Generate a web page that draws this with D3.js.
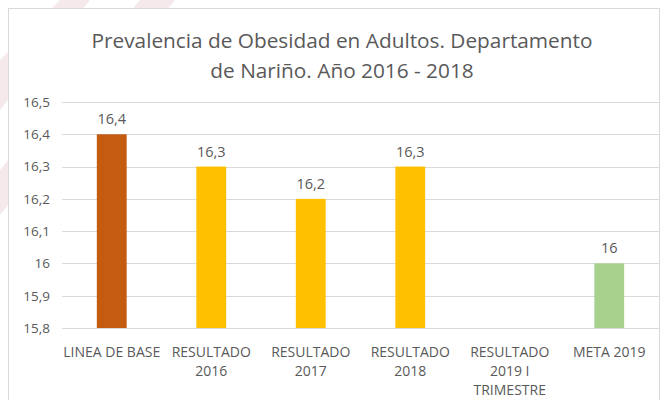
<!DOCTYPE html>
<html>
<head>
<meta charset="utf-8">
<script src="https://cdn.jsdelivr.net/npm/d3@7"></script>
<style>
  body { margin: 0; background: #fff; }
  text { font-family: "Open Sans", "Noto Sans", sans-serif; fill: #595959; }
</style>
</head>
<body>
<script>
// chart data
var categories = [["LINEA DE BASE"], ["RESULTADO", "2016"], ["RESULTADO", "2017"], ["RESULTADO", "2018"], ["RESULTADO", "2019 I", "TRIMESTRE"], ["META 2019"]];
var values = [16.4, 16.3, 16.2, 16.3, null, 16];
var barColors = ["#C55A11", "#FFC000", "#FFC000", "#FFC000", "#FFC000", "#A9D18E"];
var yTicks = [15.8, 15.9, 16, 16.1, 16.2, 16.3, 16.4, 16.5];
var titleLines = ["Prevalencia de Obesidad en Adultos. Departamento", "de Nariño. Año 2016 - 2018"];

var W = 665, H = 400;
var plotLeft = 62, plotRight = 659, plotTop = 102, plotBottom = 328;

var svg = d3.select("body").append("svg")
    .attr("width", W)
    .attr("height", H);

// faint watermark behind the chart
var wm = svg.append("g").attr("fill", "#f6e9eb");
wm.append("path").attr("d", "M0,60 L60,0 L90,0 L0,110 Z");
wm.append("path").attr("d", "M0,170 L140,0 L175,0 L0,215 Z");

// chart frame
svg.append("rect")
    .attr("x", 8.5).attr("y", 8.5)
    .attr("width", 651).attr("height", 400)
    .attr("fill", "#fff")
    .attr("stroke", "#d9d9d9");

var x = d3.scaleBand()
    .domain(d3.range(categories.length))
    .range([plotLeft, plotRight])
    .paddingInner(0.7)
    .paddingOuter(0.35);

var y = d3.scaleLinear()
    .domain([15.8, 16.5])
    .range([plotBottom, plotTop]);

var fmt = function(v) { return String(v).replace(".", ","); };

// gridlines
svg.append("g")
  .selectAll("line")
  .data(yTicks)
  .enter().append("line")
    .attr("x1", plotLeft).attr("x2", plotRight)
    .attr("y1", function(d) { return Math.round(y(d)) + 0.5; })
    .attr("y2", function(d) { return Math.round(y(d)) + 0.5; })
    .attr("stroke", "#d9d9d9");

// y axis labels
var yAxis = svg.append("g")
    .attr("transform", "translate(" + (plotLeft - 8) + ",0)")
    .call(d3.axisLeft(y).tickValues(yTicks).tickSize(0).tickPadding(4).tickFormat(fmt));
yAxis.select(".domain").remove();
yAxis.selectAll("text")
    .attr("font-size", 13.5)
    .attr("fill", "#595959")
    .style("font-family", "'Open Sans', sans-serif");

// bars
var data = values.map(function(v, i) { return { i: i, v: v }; }).filter(function(d) { return d.v != null; });

svg.append("g")
  .selectAll("rect")
  .data(data)
  .enter().append("rect")
    .attr("x", function(d) { return x(d.i); })
    .attr("width", x.bandwidth())
    .attr("y", function(d) { return y(d.v); })
    .attr("height", function(d) { return y(15.8) - y(d.v); })
    .attr("fill", function(d) { return barColors[d.i]; });

// value labels
svg.append("g")
  .selectAll("text")
  .data(data)
  .enter().append("text")
    .attr("x", function(d) { return x(d.i) + x.bandwidth() / 2; })
    .attr("y", function(d) { return y(d.v) - 10; })
    .attr("text-anchor", "middle")
    .attr("font-size", 14.5)
    .text(function(d) { return fmt(d.v); });

// category labels
var cat = svg.append("g")
  .selectAll("text")
  .data(categories)
  .enter().append("text")
    .attr("x", function(d, i) { return x(i) + x.bandwidth() / 2; })
    .attr("y", 357)
    .attr("text-anchor", "middle")
    .attr("font-size", 14);
cat.selectAll("tspan")
  .data(function(d) { return d; })
  .enter().append("tspan")
    .attr("x", function() { return d3.select(this.parentNode).attr("x"); })
    .attr("dy", function(d, j) { return j ? 19 : 0; })
    .text(function(d) { return d; });

// title
svg.append("text")
    .attr("x", 342)
    .attr("text-anchor", "middle")
    .attr("font-size", 20.8)
  .selectAll("tspan")
  .data(titleLines)
  .enter().append("tspan")
    .attr("x", 342)
    .attr("y", function(d, i) { return 48 + i * 30; })
    .text(function(d) { return d; });
</script>
</body>
</html>
